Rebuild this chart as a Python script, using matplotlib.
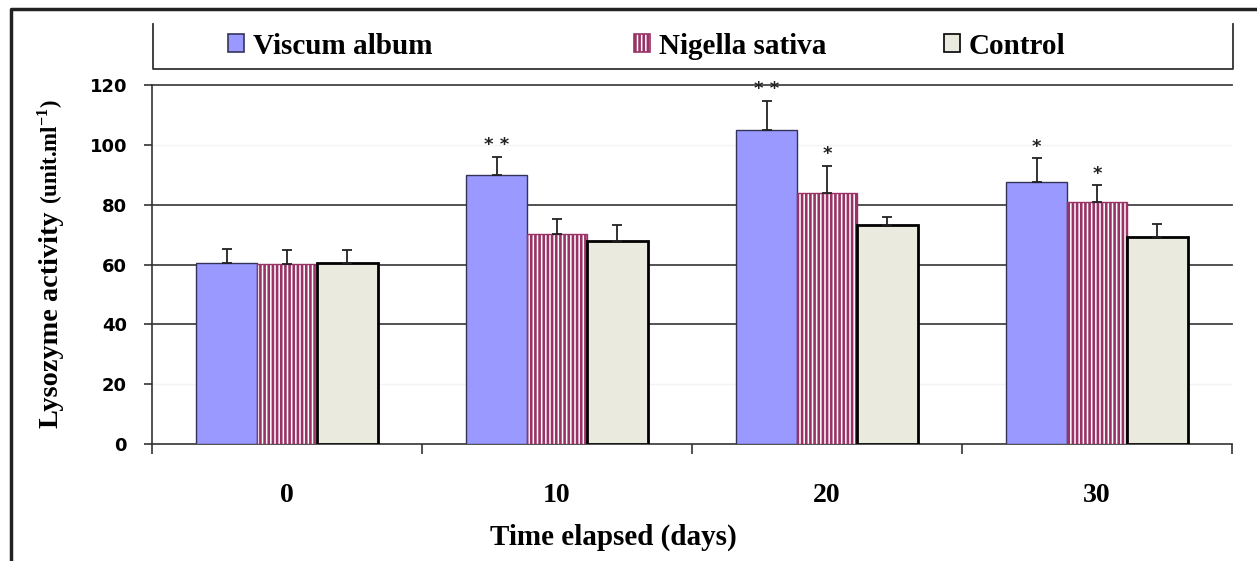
import numpy as np
import matplotlib
matplotlib.use("Agg")
import matplotlib.pyplot as plt
from matplotlib.patches import Patch
from matplotlib.lines import Line2D

# data
days = ["0", "10", "20", "30"]
series = ["Viscum album", "Nigella sativa", "Control"]
viscum = [60.6, 90.0, 105.0, 87.5]
nigella = [60.2, 70.1, 83.8, 80.8]
control = [60.5, 68.0, 73.2, 69.1]
viscum_err = [4.5, 6.0, 9.8, 8.0]
nigella_err = [4.8, 5.0, 9.2, 5.8]
control_err = [4.5, 5.2, 2.6, 4.5]
viscum_sig = ["", "**", "**", "*"]
nigella_sig = ["", "", "*", "*"]
control_sig = ["", "", "", ""]

serif = "Liberation Serif"
plt.rcParams["mathtext.fontset"] = "custom"
plt.rcParams["mathtext.rm"] = "Liberation Serif:bold"
plt.rcParams["hatch.linewidth"] = 1.9

fig = plt.figure(figsize=(12.57, 5.61), dpi=100)
ax = fig.add_axes([152/1257, 1-444/561, 1080/1257, 359/561])

x = np.arange(len(days))
w = 0.224
styles = [
    dict(color="#9999FF", edgecolor="#33335a", linewidth=1.0),
    dict(color="white", edgecolor="#993366", hatch="||||", linewidth=1.0),
    dict(color="#EAEADF", edgecolor="black", linewidth=2.0),
]
vals = [viscum, nigella, control]
errs = [viscum_err, nigella_err, control_err]
sigs = [viscum_sig, nigella_sig, control_sig]

for i in range(3):
    pos = x + (i - 1) * w
    ax.bar(pos, vals[i], w, zorder=3, label=series[i], **styles[i])
    ax.errorbar(pos, vals[i], yerr=[np.zeros(4), errs[i]], fmt="none",
                ecolor="#222222", elinewidth=1.3, capsize=3.5, capthick=1.3, zorder=4)
    for p, v, e, s in zip(pos, vals[i], errs[i], sigs[i]):
        if s:
            ax.text(p, v + e + 0.8, " ".join(s), ha="center", va="bottom",
                    fontsize=13, fontweight="bold", color="#222222")

for g in [40, 60, 80, 120]:
    ax.axhline(g, color="#444444", linewidth=1.3, zorder=1, clip_on=False)
for g in [20, 100]:
    ax.axhline(g, color="#f4f4f4", linewidth=1.0, zorder=1)

ax.set_ylim(0, 120)
ax.set_xlim(-0.5, 3.5)
ax.set_yticks(np.arange(0, 121, 20))
ax.tick_params(axis="y", length=6, width=1.2, direction="out", pad=12,
               labelsize=13, color="#333333")
for t in ax.get_yticklabels():
    t.set_fontweight("bold")
    t.set_family("DejaVu Sans")

ax.set_xticks(np.arange(-0.5, 4, 1.0))
ax.set_xticklabels([])
ax.tick_params(axis="x", which="major", length=7, width=1.2, direction="out", color="#333333")
ax.set_xticks(x, minor=True)
ax.set_xticklabels(days, minor=True, fontsize=20, fontweight="bold", family=serif)
ax.tick_params(axis="x", which="minor", length=0, pad=28)

for s in ["top", "right"]:
    ax.spines[s].set_visible(False)
for s in ["left", "bottom"]:
    ax.spines[s].set_color("#333333")
    ax.spines[s].set_linewidth(1.2)

ax.set_xlabel("Time elapsed (days)", fontsize=21, fontweight="bold", family=serif)
ax.xaxis.set_label_coords(0.427, -0.222)

# y label in two sizes, like the original, sharing one baseline
base_x = 58 / 1257
fig.text(base_x, 1-428/561, "Lysozyme activity", rotation=90, rotation_mode="anchor",
         ha="left", va="baseline", fontsize=20.3, fontweight="bold", family=serif)
fig.text(base_x, 1-204/561, "(unit.ml$^{-1}$)", rotation=90, rotation_mode="anchor",
         ha="left", va="baseline", fontsize=16.5, fontweight="bold", family=serif)

# legend entries placed one by one
leg_x = [228, 634, 944]
for i in range(3):
    h = Patch(facecolor=styles[i]["color"], edgecolor=styles[i]["edgecolor"],
              hatch=styles[i].get("hatch"), linewidth=1.2)
    fig.legend([h], [series[i]], loc="center left", bbox_to_anchor=(leg_x[i]/1257, 1-46/561),
               frameon=False, borderpad=0, borderaxespad=0, handlelength=0.55,
               handleheight=0.6, handletextpad=0.3,
               prop=dict(family=serif, weight="bold", size=21))

# legend box (no top edge) and outer frame
fx = lambda px: px / 1257
fy = lambda py: 1 - py / 561
fig.add_artist(Line2D([fx(153), fx(153), fx(1233), fx(1233)],
                      [fy(24), fy(69), fy(69), fy(24)], color="#333333", lw=1.3))
fig.add_artist(Line2D([fx(11), fx(11), fx(1257)], [fy(561), fy(9), fy(9)],
                      color="#222222", lw=2.5))

fig.savefig("out.png", dpi=100)
